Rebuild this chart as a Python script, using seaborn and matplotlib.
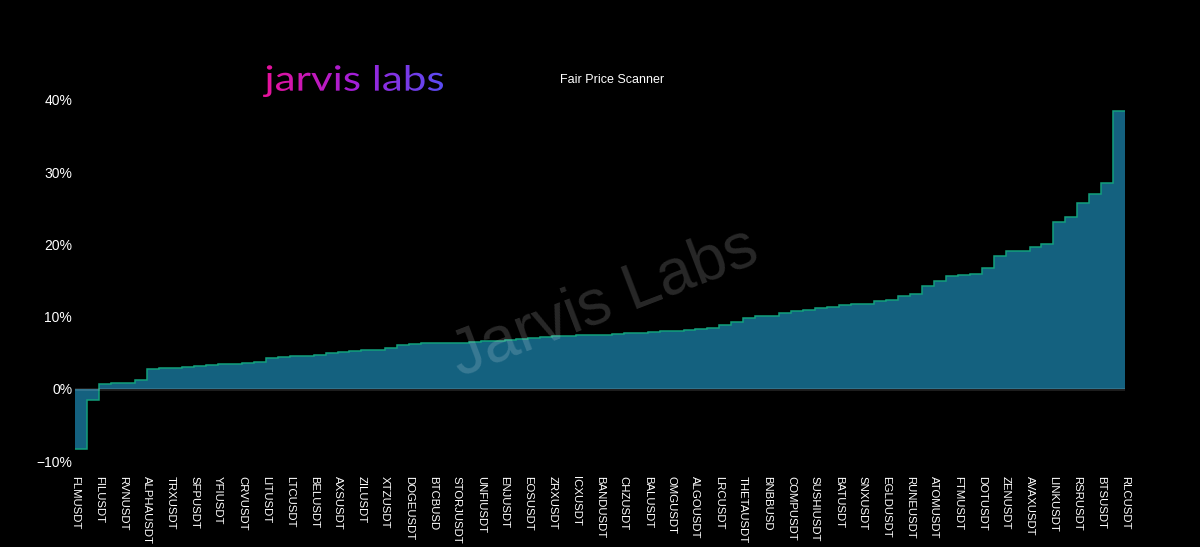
import numpy as np
import matplotlib
matplotlib.use("Agg")
import matplotlib.pyplot as plt
import seaborn as sns
from matplotlib.textpath import TextPath
from matplotlib.patches import PathPatch
from matplotlib.font_manager import FontProperties
from matplotlib.colors import LinearSegmentedColormap
from matplotlib.ticker import FuncFormatter

# Tick labels (every other symbol is labelled on the axis)
tick_labels = ["FLMUSDT", "FILUSDT", "RVNUSDT", "ALPHAUSDT", "TRXUSDT", "SFPUSDT",
               "YFIUSDT", "CRVUSDT", "LITUSDT", "LTCUSDT", "BELUSDT", "AXSUSDT",
               "ZILUSDT", "XTZUSDT", "DOGEUSDT", "BTCBUSD", "STORJUSDT", "UNFIUSDT",
               "ENJUSDT", "EOSUSDT", "ZRXUSDT", "ICXUSDT", "BANDUSDT", "CHZUSDT",
               "BALUSDT", "OMGUSDT", "ALGOUSDT", "LRCUSDT", "THETAUSDT", "BNBBUSD",
               "COMPUSDT", "SUSHIUSDT", "BATUSDT", "SNXUSDT", "EGLDUSDT", "RUNEUSDT",
               "ATOMUSDT", "FTMUSDT", "DOTUSDT", "ZENUSDT", "AVAXUSDT", "LINKUSDT",
               "RSRUSDT", "BTSUSDT", "RLCUSDT"]

# Fair price deviation per symbol (%), sorted ascending
deviation = [-8.37, -1.54, 0.62, 0.76, 0.80, 1.18, 2.79, 2.88, 2.93, 3.02,
             3.11, 3.34, 3.39, 3.48, 3.57, 3.76, 4.31, 4.40, 4.49, 4.59,
             4.73, 5.00, 5.14, 5.28, 5.33, 5.37, 5.65, 6.06, 6.25, 6.29,
             6.31, 6.34, 6.38, 6.48, 6.57, 6.66, 6.75, 6.85, 6.98, 7.17,
             7.26, 7.36, 7.42, 7.47, 7.52, 7.56, 7.72, 7.77, 7.91, 8.00,
             8.05, 8.19, 8.28, 8.41, 8.83, 9.24, 9.75, 10.03, 10.07, 10.44,
             10.72, 10.95, 11.13, 11.37, 11.55, 11.69, 11.78, 12.10, 12.34, 12.89,
             13.16, 14.22, 15.00, 15.65, 15.79, 15.93, 16.76, 18.33, 19.02, 19.11,
             19.61, 20.12, 23.12, 23.86, 25.75, 26.95, 28.47, 38.43]

y_ticks = [-10, 0, 10, 20, 30, 40]

sns.set_theme(style="dark", rc={"axes.facecolor": "black", "figure.facecolor": "black"})
plt.rcParams["font.family"] = ["Liberation Sans", "DejaVu Sans"]

fig = plt.figure(figsize=(12, 5.47), dpi=100)
ax = fig.add_axes([0.0625, 0.1572, 0.875, 0.66])

edges = np.arange(len(deviation) + 1)
ax.stairs(deviation, edges, baseline=0, fill=True, color="#14617f", zorder=2)
ax.stairs(deviation, edges, baseline=None, color="#12a07c", linewidth=1.1, zorder=3)
ax.axhline(0, color="white", alpha=0.13, linewidth=2, zorder=4)

ax.set_xlim(0, len(deviation))
ax.set_ylim(-10, 40)
ax.set_yticks(y_ticks)
ax.yaxis.set_major_formatter(FuncFormatter(lambda v, p: f"{v:.0f}%".replace("-", "\u2212")))
ax.set_xticks(edges[::2])
ax.set_xticklabels(tick_labels, rotation=-90, ha="center", va="top")
ax.tick_params(axis="x", colors="white", labelsize=8.2, length=0, pad=11)
ax.tick_params(axis="y", colors="white", labelsize=10, length=0, pad=2)
ax.grid(False)
for s in ax.spines.values():
    s.set_visible(False)

# watermark
ax.text(44.4, 11.9, "Jarvis Labs", rotation=21, fontsize=46, color="white", alpha=0.16,
        ha="center", va="center", zorder=5)

# title
fig.text(560 / 1200, 1 - 80 / 547, "Fair Price Scanner", color="white", fontsize=9,
         ha="left", va="center")

# gradient logo
tp = TextPath((0, 0), "jarvis labs", size=1, prop=FontProperties(family="Lato"))
bb = tp.get_extents()
w_px = 180
h_px = 32
logo_ax = fig.add_axes([263 / 1200, 1 - (97 / 547), w_px / 1200, h_px / 547])
logo_ax.set_xlim(bb.x0, bb.x1)
logo_ax.set_ylim(bb.y0, bb.y1)
logo_ax.axis("off")
logo_ax.patch.set_alpha(0)
patch = PathPatch(tp, fc="none", ec="none")
logo_ax.add_patch(patch)
cmap = LinearSegmentedColormap.from_list("logo", ["#e8129a", "#a51fd8", "#5a4cf2"])
grad = np.linspace(0, 1, 256).reshape(1, -1)
im = logo_ax.imshow(grad, extent=[bb.x0, bb.x1, bb.y0, bb.y1], aspect="auto", cmap=cmap)
im.set_clip_path(patch)

fig.savefig("out.png", dpi=100, facecolor="black")
